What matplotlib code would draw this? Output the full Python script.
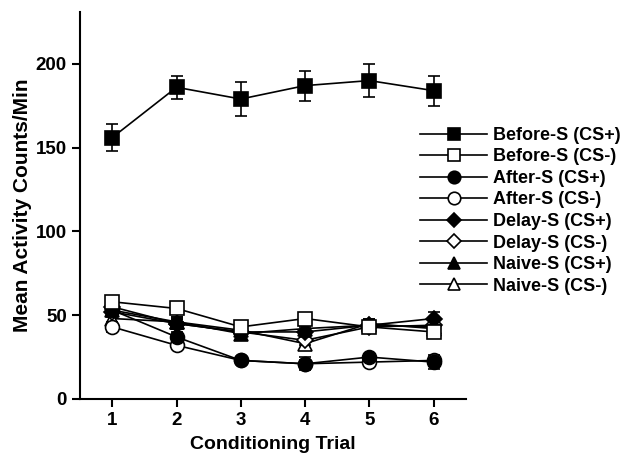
import numpy as np
import matplotlib
matplotlib.use("Agg")
import matplotlib.pyplot as plt

plt.rcParams['font.family'] = ['Liberation Sans', 'DejaVu Sans']
plt.rcParams['font.weight'] = 'bold'

trials = [1, 2, 3, 4, 5, 6]

# mean activity counts per group
before_plus = [156, 186, 179, 187, 190, 184]
before_plus_err = [8, 7, 10, 9, 10, 9]
before_minus = [58, 54, 43, 48, 43, 40]
before_minus_err = [3, 3, 3, 3, 3, 3]
after_plus = [53, 37, 23, 21, 25, 22]
after_plus_err = [3, 3, 2, 4, 2, 4]
after_minus = [43, 32, 23, 21, 22, 23]
after_minus_err = [3, 2, 2, 2, 2, 2]
delay_plus = [55, 45, 40, 40, 44, 48]
delay_plus_err = [3, 3, 3, 3, 3, 4]
delay_minus = [52, 45, 40, 35, 43, 44]
delay_minus_err = [3, 3, 3, 3, 3, 3]
naive_plus = [53, 46, 39, 42, 44, 43]
naive_plus_err = [3, 3, 3, 3, 4, 3]
naive_minus = [48, 46, 41, 33, 45, 42]
naive_minus_err = [3, 3, 3, 3, 3, 3]

groups = [
    ('Before-S (CS+)', before_plus, before_plus_err, 's', 'black'),
    ('Before-S (CS-)', before_minus, before_minus_err, 's', 'white'),
    ('After-S (CS+)', after_plus, after_plus_err, 'o', 'black'),
    ('After-S (CS-)', after_minus, after_minus_err, 'o', 'white'),
    ('Delay-S (CS+)', delay_plus, delay_plus_err, 'D', 'black'),
    ('Delay-S (CS-)', delay_minus, delay_minus_err, 'D', 'white'),
    ('Naive-S (CS+)', naive_plus, naive_plus_err, '^', 'black'),
    ('Naive-S (CS-)', naive_minus, naive_minus_err, '^', 'white'),
]

fig = plt.figure(figsize=(6.26, 4.57), dpi=100)
ax = fig.add_axes([0.128, 0.127, 0.616, 0.847])

handles = []
for i, (label, vals, errs, mk, fc) in enumerate(groups):
    ms = 8 if mk == 'D' else 10
    h = ax.errorbar(trials, vals, yerr=errs, color='black', marker=mk,
                    markersize=ms, markerfacecolor=fc, markeredgecolor='black',
                    markeredgewidth=1.2, linewidth=1.2, capsize=4,
                    elinewidth=1.2, capthick=1.2, label=label,
                    zorder=10 - i)
    handles.append(h)

ax.set_xlim(0.5, 6.5)
ax.set_ylim(0, 231)
ax.set_xticks(trials)
ax.set_yticks([0, 50, 100, 150, 200])
ax.spines['top'].set_visible(False)
ax.spines['right'].set_visible(False)
ax.spines['left'].set_linewidth(1.5)
ax.spines['bottom'].set_linewidth(1.5)
ax.tick_params(direction='out', length=6, width=1.5, labelsize=13.5)
for t in ax.get_xticklabels() + ax.get_yticklabels():
    t.set_fontweight('bold')
ax.set_xlabel('Conditioning Trial', fontsize=14, fontweight='bold', labelpad=5)
ax.set_ylabel('Mean Activity Counts/Min', fontsize=15, fontweight='bold', labelpad=3)

leg = fig.legend(handles=[h[0] for h in handles],
                 labels=[g[0] for g in groups],
                 loc='upper left', bbox_to_anchor=(0.657, 0.742),
                 frameon=False, fontsize=13, handlelength=3.7,
                 handletextpad=0.33, labelspacing=0.25, borderpad=0,
                 markerscale=0.9)
for t in leg.get_texts():
    t.set_fontweight('bold')

fig.savefig('out.png', dpi=100)
